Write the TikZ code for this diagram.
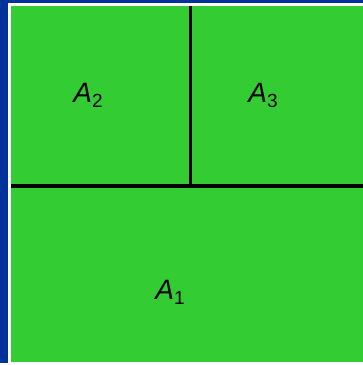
\documentclass[tikz,border=0pt]{standalone}
\usepackage{fontspec}
\setmainfont{Liberation Sans}
\definecolor{bgblue}{RGB}{0,51,153}
\definecolor{fieldgreen}{RGB}{51,204,51}
\newcommand{\lbl}[1]{\fontsize{28}{30}\selectfont\textit{A}\raisebox{-0.2em}{\fontsize{19}{20}\selectfont #1}}
\begin{document}
\begin{tikzpicture}[x=1pt,y=-1pt,
  divider/.style={black,line width=3.8pt},
  areatext/.style={inner sep=0pt,anchor=base}]
\useasboundingbox (0,0) rectangle (363,365);
\fill[white] (0,0) rectangle (363,365);
\fill[bgblue] (0,0) rectangle (363,363);
\fill[white] (8,3) rectangle (363,365);
\fill[fieldgreen] (11,5.5) rectangle (363,362);
\coordinate (hl) at (11,186);
\coordinate (hr) at (363,186);
\coordinate (vt) at (190.5,5.5);
\coordinate (vb) at (190.5,186);
\draw[divider] (hl) -- (hr);
\draw[divider] (vt) -- (vb);
\node[areatext] (a2) at (88,102) {\lbl{2}};
\node[areatext] (a3) at (263,102) {\lbl{3}};
\node[areatext] (a1) at (170,299) {\lbl{1}};
\end{tikzpicture}
\end{document}
